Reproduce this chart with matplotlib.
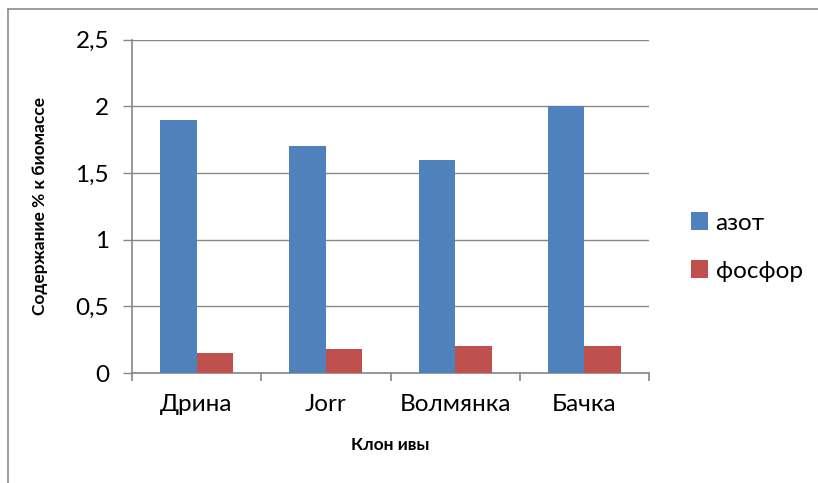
import matplotlib
matplotlib.use("Agg")
import matplotlib.pyplot as plt
from matplotlib.ticker import FuncFormatter, FixedLocator
from matplotlib.lines import Line2D
import numpy as np

plt.rcParams['font.family'] = ['Lato', 'DejaVu Sans']

categories = ["Дрина", "Jorr", "Волмянка", "Бачка"]
azot = [1.9, 1.7, 1.6, 2.0]
fosfor = [0.15, 0.18, 0.2, 0.2]
series_names = ["азот", "фосфор"]
colors = ["#4F81BD", "#C0504D"]
y_ticks = [0, 0.5, 1, 1.5, 2, 2.5]

fig = plt.figure(figsize=(8.18, 4.83), dpi=100)
ax = fig.add_axes([132/818, 1-373/483, (649-132)/818, (373-39.5)/483])

x = np.arange(len(categories))
w = 0.283
ax.bar(x - w/2, azot, width=w, color=colors[0], label=series_names[0], zorder=3)
ax.bar(x + w/2, fosfor, width=w, color=colors[1], label=series_names[1], zorder=3)

ax.set_xlim(-0.5, len(categories) - 0.5)
ax.set_ylim(0, 2.5)
ax.set_yticks(y_ticks)
ax.yaxis.set_major_formatter(FuncFormatter(lambda v, p: ('%g' % v).replace('.', ',')))
ax.grid(axis='y', color='#868686', linewidth=1.0, zorder=0)
ax.set_xticks(x)
ax.set_xticklabels(categories)
ax.xaxis.set_minor_locator(FixedLocator(np.arange(len(categories) + 1) - 0.5))
ax.tick_params(axis='x', which='major', length=0, pad=15, labelsize=17.5)
ax.tick_params(axis='x', which='minor', length=6, width=1.2, color='#868686', direction='out')
ax.tick_params(axis='y', length=6.5, width=1.0, color='#868686', pad=10, labelsize=17.5)

for s in ['top', 'right']:
    ax.spines[s].set_visible(False)
for s in ['left', 'bottom']:
    ax.spines[s].set_color('#868686')
    ax.spines[s].set_linewidth(1.2)

ax.set_xlabel("Клон ивы", fontsize=12.5, fontweight='bold', labelpad=16)
ax.set_ylabel("Содержание % к биомассе", fontsize=12.5, fontweight='bold', labelpad=20)

leg = fig.legend(loc='center left', bbox_to_anchor=(669/818, 1-247/483), frameon=False,
                 fontsize=17.5, handlelength=0.72, handleheight=0.72, handletextpad=0.3,
                 labelspacing=1.1)

# chart border (top and left visible)
fig.add_artist(Line2D([8/818, 1], [1-9/483, 1-9/483], color='#8c8c8c', linewidth=1.2, transform=fig.transFigure))
fig.add_artist(Line2D([8/818, 8/818], [0, 1-9/483], color='#8c8c8c', linewidth=1.2, transform=fig.transFigure))

fig.savefig("out.png", dpi=100)
